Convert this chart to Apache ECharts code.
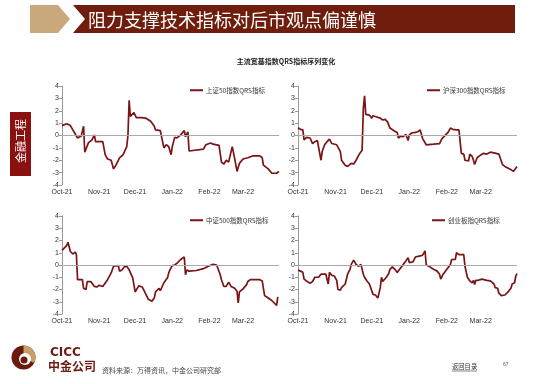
<!DOCTYPE html>
<html><head><meta charset="utf-8">
<script src="https://cdn.jsdelivr.net/npm/echarts@6/dist/echarts.min.js"></script>
<style>html,body{margin:0;padding:0;background:#fff}#c{width:550px;height:384px}</style>
</head><body><div id="c"></div>
<script>
var tickLabels = ['Oct-21','Nov-21','Dec-21','Jan-22','Feb-22','Mar-22'];
var seriesNames = ['上证50指数QRS指标','沪深300指数QRS指标','中证500指数QRS指标','创业板指QRS指标'];

var sz50 = [
['2021-10-01',0.8],['2021-10-05',0.95],['2021-10-08',0.8],['2021-10-09',0.7],['2021-10-14',-0.2],['2021-10-15',-0.3],['2021-10-17',-0.05],['2021-10-19',0.75],['2021-10-20',-1.35],['2021-10-23',-0.6],['2021-10-26',-0.35],['2021-10-28',0.05],['2021-10-29',-0.5],
['2021-11-02',-0.5],['2021-11-04',-0.5],['2021-11-06',-1.55],['2021-11-08',-1.9],['2021-11-11',-2.0],['2021-11-13',-2.7],['2021-11-15',-2.4],['2021-11-18',-1.8],['2021-11-21',-1.55],['2021-11-24',-0.9],['2021-11-25',0],['2021-11-26',2.85],['2021-11-27',1.55],['2021-11-28',1.7],['2021-11-30',1.85],
['2021-12-02',1.45],['2021-12-06',1.45],['2021-12-10',1.4],['2021-12-11',1.5],['2021-12-14',1.15],['2021-12-17',0.75],['2021-12-18',0.45],['2021-12-22',0.4],['2021-12-25',-1.0],['2021-12-27',-0.75],['2021-12-29',-0.9],['2021-12-31',-1.55],
['2022-01-01',-0.9],['2022-01-03',-0.15],['2022-01-05',-0.2],['2022-01-08',0.05],['2022-01-11',0.4],['2022-01-12',-0.1],['2022-01-14',0.3],['2022-01-15',-1.25],['2022-01-27',-1.1],['2022-01-29',-0.75],
['2022-02-02',-0.6],['2022-02-04',-0.7],['2022-02-09',-0.8],['2022-02-11',-2.15],['2022-02-13',-2.3],['2022-02-15',-2.0],['2022-02-17',-2.15],['2022-02-20',-0.9],['2022-02-22',-1.85],['2022-02-24',-2.9],['2022-02-26',-2.25],
['2022-03-01',-1.9],['2022-03-05',-1.8],['2022-03-09',-1.65],['2022-03-15',-1.65],['2022-03-17',-1.8],['2022-03-18',-2.4],['2022-03-22',-2.7],['2022-03-25',-3.05],['2022-03-29',-3.05],['2022-03-31',-2.9]
];
var hs300 = [
['2021-10-01',0.63],['2021-10-03',0.5],['2021-10-05',0.45],['2021-10-06',-0.35],['2021-10-07',-0.3],['2021-10-08',-0.15],['2021-10-11',-0.2],['2021-10-12',-0.35],['2021-10-13',-0.65],['2021-10-15',-0.5],['2021-10-17',-0.4],['2021-10-18',-0.35],['2021-10-20',-2.0],['2021-10-21',-1.3],['2021-10-23',-0.75],['2021-10-25',-0.5],['2021-10-27',-0.3],['2021-10-29',-0.65],['2021-10-30',-0.75],
['2021-11-02',-0.75],['2021-11-05',-1.3],['2021-11-06',-2.0],['2021-11-09',-2.4],['2021-11-11',-2.5],['2021-11-14',-2.25],['2021-11-16',-2.3],['2021-11-18',-2.0],['2021-11-21',-1.45],['2021-11-23',-1.2],['2021-11-24',2.2],['2021-11-25',3.2],['2021-11-26',1.7],['2021-11-27',1.7],['2021-11-29',1.65],
['2021-12-01',1.4],['2021-12-02',1.6],['2021-12-05',1.5],['2021-12-08',1.4],['2021-12-10',1.25],['2021-12-12',1.3],['2021-12-14',1.1],['2021-12-16',0.6],['2021-12-20',0.35],['2021-12-22',0.25],['2021-12-23',-0.2],['2021-12-25',-0.05],['2021-12-27',-0.1],['2021-12-29',0.1],['2021-12-31',-0.4],
['2022-01-01',0.05],['2022-01-03',0.2],['2022-01-06',0.25],['2022-01-08',0.3],['2022-01-10',0.45],['2022-01-11',0.6],['2022-01-12',-0.25],['2022-01-13',-0.2],['2022-01-15',-0.75],['2022-01-21',-0.7],['2022-01-26',-0.65],['2022-01-28',-0.25],['2022-01-31',0.05],
['2022-02-02',0.25],['2022-02-04',0.6],['2022-02-06',0.5],['2022-02-09',0.45],['2022-02-11',0.45],['2022-02-13',-1.45],['2022-02-15',-1.5],['2022-02-16',-2.0],['2022-02-19',-2.05],['2022-02-20',-1.5],['2022-02-22',-1.7],['2022-02-23',-2.0],['2022-02-24',-2.35],['2022-02-26',-1.8],['2022-02-28',-1.65],
['2022-03-03',-1.45],['2022-03-06',-1.5],['2022-03-09',-1.35],['2022-03-12',-1.4],['2022-03-16',-1.5],['2022-03-17',-1.6],['2022-03-19',-2.35],['2022-03-21',-2.5],['2022-03-25',-2.7],['2022-03-28',-2.9],['2022-03-29',-2.85],['2022-03-31',-2.5]
];
var zz500 = [
['2021-10-01',1.2],['2021-10-03',1.4],['2021-10-05',1.6],['2021-10-06',1.85],['2021-10-08',1.1],['2021-10-10',0.9],['2021-10-11',0.8],['2021-10-12',1.05],['2021-10-13',0.85],['2021-10-14',-1.2],['2021-10-15',-1.15],['2021-10-18',-1.2],['2021-10-19',-1.9],['2021-10-21',-2.0],['2021-10-22',-1.35],['2021-10-25',-1.35],['2021-10-28',-1.75],['2021-10-30',-1.8],
['2021-11-01',-1.65],['2021-11-04',-1.75],['2021-11-05',-1.6],['2021-11-08',-1.2],['2021-11-11',-0.65],['2021-11-12',-0.8],['2021-11-13',-0.1],['2021-11-14',0],['2021-11-17',-0.05],['2021-11-18',-0.5],['2021-11-20',-0.4],['2021-11-22',-0.15],['2021-11-24',-0.1],['2021-11-26',-0.4],['2021-11-29',-1.05],
['2021-12-01',-2.2],['2021-12-04',-1.7],['2021-12-07',-1.8],['2021-12-10',-2.4],['2021-12-12',-2.8],['2021-12-15',-2.95],['2021-12-17',-2.7],['2021-12-18',-2.2],['2021-12-21',-1.9],['2021-12-22',-2.1],['2021-12-25',-1.45],['2021-12-28',-1.05],['2021-12-29',-0.65],['2021-12-30',-0.4],
['2022-01-01',-0.05],['2022-01-03',0],['2022-01-05',0.15],['2022-01-06',0],['2022-01-08',0.45],['2022-01-11',0.65],['2022-01-12',-0.8],['2022-01-13',-0.4],['2022-01-15',-0.5],['2022-01-21',-0.45],['2022-01-27',-0.3],['2022-01-31',-0.1],
['2022-02-04',0.05],['2022-02-07',0],['2022-02-10',-0.8],['2022-02-11',-1.2],['2022-02-13',-1.75],['2022-02-15',-1.75],['2022-02-17',-1.4],['2022-02-19',-1.75],['2022-02-20',-1.6],['2022-02-22',-1.9],['2022-02-24',-2.15],['2022-02-25',-3.1],['2022-02-26',-2.2],
['2022-03-01',-1.95],['2022-03-04',-1.6],['2022-03-05',-1.35],['2022-03-07',-1.2],['2022-03-11',-1.2],['2022-03-15',-1.2],['2022-03-17',-1.3],['2022-03-19',-2.5],['2022-03-22',-2.7],['2022-03-25',-2.9],['2022-03-27',-3.1],['2022-03-29',-3.3],['2022-03-30',-2.6]
];
var cyb = [
['2021-10-01',-0.4],['2021-10-03',-0.5],['2021-10-05',-0.6],['2021-10-06',-1.15],['2021-10-08',-1.3],['2021-10-11',-1.5],['2021-10-12',-1.5],['2021-10-13',-1.35],['2021-10-15',-1.0],['2021-10-18',-1.0],['2021-10-19',-0.9],['2021-10-20',-0.75],['2021-10-22',-0.75],['2021-10-24',-0.75],['2021-10-26',-1.55],['2021-10-27',-0.6],['2021-10-29',-0.85],['2021-10-31',-0.9],
['2021-11-02',-1.25],['2021-11-03',-2.0],['2021-11-05',-2.05],['2021-11-06',-1.85],['2021-11-09',-1.55],['2021-11-10',-1.45],['2021-11-11',-0.75],['2021-11-13',-0.35],['2021-11-14',0.05],['2021-11-16',0.4],['2021-11-17',0.3],['2021-11-18',0.05],['2021-11-20',-0.1],['2021-11-21',0],['2021-11-22',0.05],['2021-11-24',-0.75],['2021-11-25',-1.0],['2021-11-27',-1.3],['2021-11-28',-1.45],['2021-11-29',-1.55],
['2021-12-02',-2.4],['2021-12-04',-2.45],['2021-12-05',-2.6],['2021-12-06',-2.7],['2021-12-08',-1.85],['2021-12-09',-1.0],['2021-12-10',-1.35],['2021-12-13',-1.0],['2021-12-15',-0.7],['2021-12-16',-0.35],['2021-12-18',-0.15],['2021-12-20',-0.35],['2021-12-22',-0.6],['2021-12-23',-0.75],['2021-12-24',-0.35],['2021-12-27',0.05],['2021-12-29',0.3],['2021-12-31',0.6],
['2022-01-01',0.2],['2022-01-04',0.25],['2022-01-06',0.65],['2022-01-07',0.6],['2022-01-10',0.75],['2022-01-12',0.8],['2022-01-14',1.15],['2022-01-15',0],['2022-01-18',-0.15],['2022-01-21',-0.35],['2022-01-24',-0.5],['2022-01-26',-0.75],['2022-01-27',-1.15],['2022-01-29',-0.75],
['2022-02-01',-0.35],['2022-02-04',0.05],['2022-02-05',0.45],['2022-02-06',0.45],['2022-02-08',0.45],['2022-02-09',1.0],['2022-02-11',0.85],['2022-02-12',0.75],['2022-02-13',0.85],['2022-02-15',0.85],['2022-02-16',-0.1],['2022-02-18',-1.0],['2022-02-20',-1.3],['2022-02-22',-1.45],['2022-02-23',-1.25],['2022-02-24',-1.6],['2022-02-25',-1.25],['2022-02-27',-1.25],
['2022-03-02',-1.15],['2022-03-03',-1.3],['2022-03-06',-1.25],['2022-03-09',-1.3],['2022-03-12',-1.55],['2022-03-13',-1.85],['2022-03-15',-1.9],['2022-03-16',-2.3],['2022-03-18',-2.5],['2022-03-21',-2.45],['2022-03-24',-2.15],['2022-03-26',-1.9],['2022-03-27',-1.55],['2022-03-29',-1.45],['2022-03-30',-0.9],['2022-03-31',-0.7]
];
var allSeries = [sz50, hs300, zz500, cyb];

// calendar-day categories for the date axis
var days = [];
(function(){
  var d = new Date(Date.UTC(2021,9,1)), end = Date.UTC(2022,2,31);
  while (d.getTime() <= end) { days.push(d.toISOString().slice(0,10)); d = new Date(d.getTime()+86400000); }
})();
var monthStart = {};
days.forEach(function(s){ if (s.slice(8)==='01') { monthStart[s] = tickLabels[Object.keys(monthStart).length]; } });

var FONT = '"Liberation Sans", Arial, sans-serif';
var CJK = '"Noto Sans CJK SC", sans-serif';
var LINE = '#7A1416';
var grids = [
  {left:62, top:86, width:217, height:99},
  {left:298, top:86, width:219, height:99},
  {left:62, top:216, width:217, height:98},
  {left:298, top:216, width:219, height:98}
];
var legendPos = [{left:190, top:87},{left:427, top:87},{left:190, top:217},{left:432, top:217}];

var opt = {
  backgroundColor:'#fff',
  animation:false,
  title:{text:'主流宽基指数QRS指标序列变化', left:281, top:53, textAlign:'center',
    textStyle:{fontSize:7, fontWeight:'bold', color:'#222', fontFamily:CJK}},
  grid: grids,
  legend: seriesNames.map(function(n,i){ return {
    data:[n], left:legendPos[i].left, top:legendPos[i].top, icon:'rect', itemWidth:13, itemHeight:2, itemGap:2,
    textStyle:{fontSize:6.5, color:'#333', fontFamily:CJK, padding:[0,0,0,-2]}, padding:0 }; }),
  xAxis: grids.map(function(g,i){ return {
    type:'category', gridIndex:i, data:days, boundaryGap:false,
    axisLine:{show:false}, axisTick:{show:false}, splitLine:{show:false},
    axisLabel:{fontSize:7, color:'#333', fontFamily:FONT, margin:4, showMinLabel:true,
      interval:function(idx,val){ return monthStart[val]!==undefined; },
      formatter:function(val){ return monthStart[val] || ''; }}
  }; }),
  yAxis: grids.map(function(g,i){ return {
    type:'value', gridIndex:i, min:-4, max:4, interval:1,
    axisLine:{show:true, lineStyle:{color:'#999', width:1}},
    axisTick:{show:true, length:3, lineStyle:{color:'#999'}},
    splitLine:{show:false},
    axisLabel:{fontSize:7, color:'#333', fontFamily:FONT, margin:3}
  }; }),
  series: allSeries.map(function(d,i){ return {
    name:seriesNames[i], type:'line', xAxisIndex:i, yAxisIndex:i, data:d, symbol:'none',
    lineStyle:{color:LINE, width:1.7}, itemStyle:{color:LINE},
    markLine:{silent:true, symbol:'none', label:{show:false}, animation:false,
      lineStyle:{color:'#aaa', width:1, type:'solid'}, data:[{yAxis:0}]}
  }; }),
  graphic:[
    {type:'polygon', shape:{points:[[30,5],[58,5],[70,19],[58,33],[30,33]]}, style:{fill:'#C9A97C'}},
    {type:'polygon', shape:{points:[[73,5],[515,5],[515,33],[73,33],[85,19]]}, style:{fill:'#6F1D0C'}},
    {type:'text', x:88, y:20.5, style:{text:'阻力支撑技术指标对后市观点偏谨慎', fill:'#fff', fontSize:18, fontFamily:CJK, verticalAlign:'middle'}},
    {type:'rect', shape:{x:10, y:112, width:21, height:64}, style:{fill:'#8B1010'}},
    {type:'text', x:20.5, y:141, rotation:Math.PI/2, style:{text:'金融工程', fill:'#fff', fontSize:11, fontFamily:CJK, align:'center', verticalAlign:'middle'}},
    {type:'circle', shape:{cx:23.5, cy:357.5, r:12}, style:{fill:'#6B1A10'}},
    {type:'sector', shape:{cx:23.5, cy:357.5, r:12, r0:0, startAngle:-Math.PI/2, endAngle:Math.PI*0.15}, style:{fill:'#C9A068'}},
    {type:'circle', shape:{cx:25, cy:359, r:6}, style:{fill:'#fff'}},
    {type:'circle', shape:{cx:24, cy:360, r:3.5}, style:{fill:'#6B1A10'}},
    {type:'text', x:50, y:352.5, style:{text:'CICC', fill:'#6B1A10', fontSize:12, fontWeight:'bold', fontFamily:'"DejaVu Sans", sans-serif', verticalAlign:'middle'}},
    {type:'text', x:48, y:366, style:{text:'中金公司', fill:'#6B1A10', fontSize:12, fontWeight:'bold', fontFamily:CJK, verticalAlign:'middle'}},
    {type:'text', x:102, y:370, style:{text:'资料来源：万得资讯，中金公司研究部', fill:'#444', fontSize:7, fontFamily:CJK, verticalAlign:'middle'}},
    {type:'text', x:452, y:367, style:{text:'返回目录', fill:'#333', fontSize:6.3, fontFamily:CJK, verticalAlign:'middle'}},
    {type:'line', shape:{x1:452, y1:371, x2:477, y2:371}, style:{stroke:'#333', lineWidth:0.6}},
    {type:'text', x:503, y:365, style:{text:'67', fill:'#555', fontSize:5, fontFamily:FONT, verticalAlign:'middle'}}
  ]
};
var chart = echarts.init(document.getElementById('c'), null, {renderer:'canvas'});
chart.setOption(opt);
</script></body></html>
